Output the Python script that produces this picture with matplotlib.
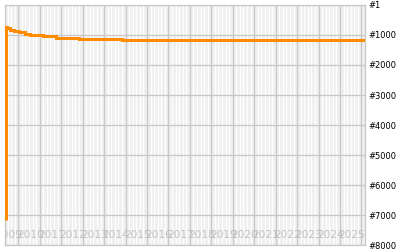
import matplotlib
matplotlib.use("Agg")
import matplotlib.pyplot as plt
import numpy as np

# Data (decimal years, rank)
dates = [2009.41, 2009.41, 2009.49, 2009.61, 2009.80, 2010.03, 2010.31, 2010.55,
         2011.15, 2011.76, 2012.83, 2014.84, 2026.18]
ranks = [7150, 722, 772, 822, 871, 921, 955, 1004, 1054, 1110, 1142, 1185, 1185]

year_labels = list(range(2009, 2026))
rank_ticks = [1, 1000, 2000, 3000, 4000, 5000, 6000, 7000, 8000]
rank_labels = ["#1", "#1000", "#2000", "#3000", "#4000", "#5000", "#6000", "#7000", "#8000"]

fig = plt.figure(figsize=(4, 2.5), dpi=100)
ax = fig.add_axes([5.3 / 400, (250 - 245.4) / 250, 360 / 400, 240.6 / 250])
ax.set_facecolor("#f0f0f0")

# grid
major_x = list(range(2010, 2027))
minor_x = [y + k / 6 for y in range(2009, 2027) for k in range(1, 6)]
ax.set_xticks(major_x)
ax.set_xticks(minor_x, minor=True)
ax.set_yticks(rank_ticks)
ax.set_yticklabels(rank_labels)
ax.set_xlim(2009.394, 2026.18)
ax.set_ylim(8000, 0)
ax.grid(which="minor", axis="x", color="white", lw=0.9)
ax.grid(which="major", axis="x", color="#c8c8c8", lw=0.9)
ax.grid(which="major", axis="y", color="#c8c8c8", lw=0.9)
ax.set_axisbelow(True)

ax.tick_params(axis="x", which="both", length=0, labelbottom=False)
ax.tick_params(axis="y", length=0, labelleft=False, labelright=True, pad=2.2,
               labelsize=6, labelcolor="black")

for s in ax.spines.values():
    s.set_color("#c8c8c8")
    s.set_linewidth(0.9)

for y in year_labels:
    ax.text(y - 0.07, 0.042, str(y), transform=ax.get_xaxis_transform(),
            ha="left", va="center", fontsize=7.6, color="#c0c0c0", clip_on=True)

ax.plot(dates, ranks, drawstyle="steps-post", color="#ff8c00", lw=2.2,
        solid_capstyle="butt", solid_joinstyle="miter", zorder=3)

fig.savefig("out.png", dpi=100)
